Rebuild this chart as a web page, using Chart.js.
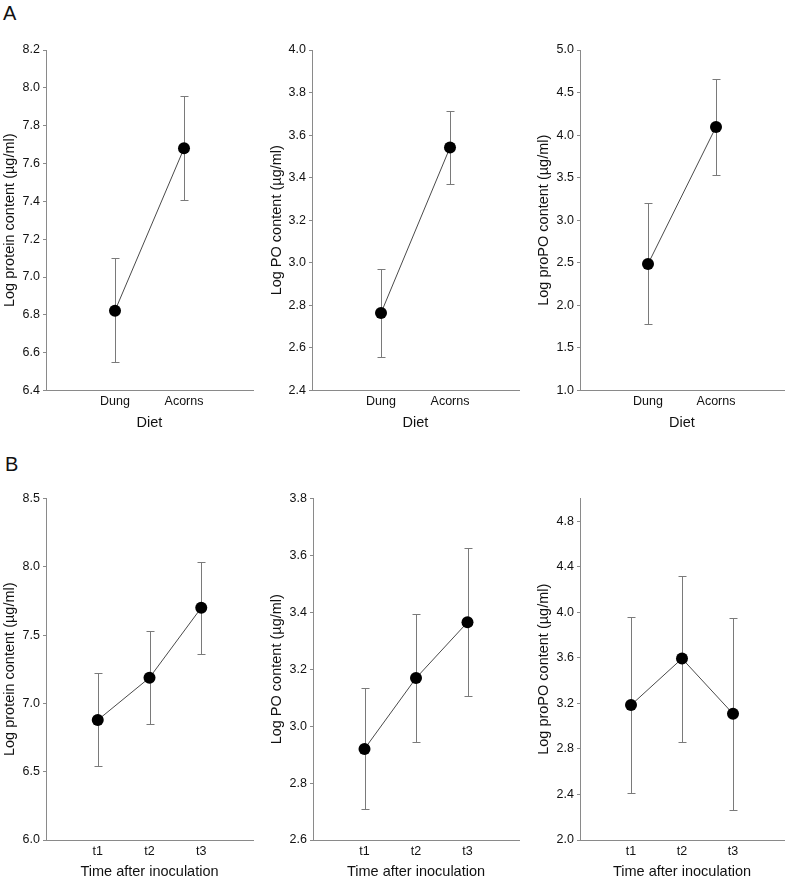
<!DOCTYPE html>
<html>
<head>
<meta charset="utf-8">
<script src="https://cdn.jsdelivr.net/npm/chart.js@4"></script>
<style>
  body { margin: 0; background: #fff; }
  #wrap { position: relative; width: 790px; height: 881px; font-family: "Liberation Sans", Arial, sans-serif; }
  canvas { position: absolute; }
  .tag { position: absolute; font-size: 20px; line-height: 20px; color: #111; }
</style>
</head>
<body>
<div id="wrap">
  <div class="tag" style="left:3px; top:3px">A</div>
  <div class="tag" style="left:5px; top:454px">B</div>
  <canvas id="a1" width="262" height="440" style="left:0px; top:0px"></canvas>
  <canvas id="a2" width="258" height="440" style="left:267px; top:0px"></canvas>
  <canvas id="a3" width="256" height="440" style="left:534px; top:0px"></canvas>
  <canvas id="b1" width="262" height="441" style="left:0px; top:440px"></canvas>
  <canvas id="b2" width="258" height="441" style="left:267px; top:440px"></canvas>
  <canvas id="b3" width="256" height="441" style="left:534px; top:440px"></canvas>
</div>
<script>
// categories
const dietLabels = ["Dung", "Acorns"];
const timeLabels = ["t1", "t2", "t3"];

// A: diet
const proteinDiet = [6.822, 7.68];
const proteinDietLow = [6.55, 7.406];
const proteinDietHigh = [7.098, 7.957];

const poDiet = [2.764, 3.542];
const poDietLow = [2.559, 3.37];
const poDietHigh = [2.971, 3.714];

const propoDiet = [2.486, 4.096];
const propoDietLow = [1.782, 3.533];
const propoDietHigh = [3.201, 4.663];

// B: time after inoculation
const proteinTime = [6.878, 7.188, 7.70];
const proteinTimeLow = [6.541, 6.851, 7.363];
const proteinTimeHigh = [7.22, 7.529, 8.034];

const poTime = [2.92, 3.169, 3.365];
const poTimeLow = [2.71, 2.946, 3.106];
const poTimeHigh = [3.133, 3.395, 3.626];

const propoTime = [3.185, 3.594, 3.109];
const propoTimeLow = [2.409, 2.861, 2.26];
const propoTimeHigh = [3.956, 4.321, 3.95];

const FONT = "'Liberation Sans', Arial, sans-serif";
const AXIS_GREY = "#8a8a8a";

// draws the vertical error bars under the points
const errorBars = {
  id: "errorBars",
  beforeDatasetsDraw(chart) {
    const ctx = chart.ctx;
    const xs = chart.scales.x, ys = chart.scales.y;
    const ds = chart.data.datasets[0];
    ctx.save();
    ctx.strokeStyle = "#7a7a7a";
    ctx.lineWidth = 1;
    ds.data.forEach((p, i) => {
      const px = Math.round(xs.getPixelForValue(p.x)) + 0.5;
      const top = Math.round(ys.getPixelForValue(ds.high[i])) + 0.5;
      const bot = Math.round(ys.getPixelForValue(ds.low[i])) + 0.5;
      ctx.beginPath();
      ctx.moveTo(px, top); ctx.lineTo(px, bot);
      ctx.moveTo(px - 4, top); ctx.lineTo(px + 4, top);
      ctx.moveTo(px - 4, bot); ctx.lineTo(px + 4, bot);
      ctx.stroke();
    });
    ctx.restore();
  }
};

function makePanel(id, cats, means, low, high, y, xTitle, box) {
  const pts = means.map((v, i) => ({ x: i + 1, y: v }));
  new Chart(document.getElementById(id), {
    type: "line",
    data: {
      datasets: [{
        data: pts,
        low: low,
        high: high,
        borderColor: "#4a4a4a",
        borderWidth: 1,
        pointRadius: 6,
        pointBackgroundColor: "#000",
        pointBorderColor: "#000",
        pointBorderWidth: 0,
        tension: 0
      }]
    },
    options: {
      responsive: false,
      animation: false,
      layout: { padding: { top: box.top, right: box.right, bottom: 0, left: 0 } },
      plugins: { legend: { display: false }, tooltip: { enabled: false } },
      scales: {
        x: {
          type: "linear",
          min: 0,
          max: cats.length + 1,
          afterFit: s => { s.height = box.xh; },
          grid: { display: false, drawTicks: false },
          border: { color: AXIS_GREY, width: 1 },
          ticks: {
            stepSize: 1,
            padding: 4,
            color: "#111",
            font: { family: FONT, size: 12.5 },
            callback: v => cats[v - 1] || ""
          },
          title: {
            display: true,
            text: xTitle,
            color: "#111",
            font: { family: FONT, size: 14.5 },
            padding: { top: 0, bottom: box.tpb }
          }
        },
        y: {
          min: y.min,
          max: y.max,
          afterFit: s => { s.width = box.yw; },
          afterBuildTicks: s => { s.ticks = s.ticks.filter(t => t.value <= y.last + 1e-6); },
          grid: { display: true, drawOnChartArea: false, drawTicks: true, tickLength: 3, color: AXIS_GREY },
          border: { color: AXIS_GREY, width: 1 },
          ticks: {
            stepSize: y.step,
            padding: 3,
            color: "#111",
            font: { family: FONT, size: 12.5 },
            callback: v => v.toFixed(1)
          },
          title: {
            display: true,
            text: y.title,
            color: "#111",
            font: { family: FONT, size: 14.5 },
            padding: { top: 1, bottom: 0 }
          }
        }
      }
    },
    plugins: [errorBars]
  });
}

const rowA = { top: 50, xh: 49.5, tpb: 8 };
const rowB = { top: 58.5, xh: 41, tpb: 0 };

makePanel("a1", dietLabels, proteinDiet, proteinDietLow, proteinDietHigh,
  { min: 6.4, max: 8.2, step: 0.2, last: 8.2, title: "Log protein content (µg/ml)" }, "Diet",
  Object.assign({ yw: 46, right: 9 }, rowA));
makePanel("a2", dietLabels, poDiet, poDietLow, poDietHigh,
  { min: 2.4, max: 4.0, step: 0.2, last: 4.0, title: "Log PO content (µg/ml)" }, "Diet",
  Object.assign({ yw: 45, right: 6 }, rowA));
makePanel("a3", dietLabels, propoDiet, propoDietLow, propoDietHigh,
  { min: 1.0, max: 5.0, step: 0.5, last: 5.0, title: "Log proPO content (µg/ml)" }, "Diet",
  Object.assign({ yw: 46, right: 3 }, rowA));

makePanel("b1", timeLabels, proteinTime, proteinTimeLow, proteinTimeHigh,
  { min: 6.0, max: 8.5, step: 0.5, last: 8.5, title: "Log protein content (µg/ml)" }, "Time after inoculation",
  Object.assign({ yw: 46, right: 9 }, rowB));
makePanel("b2", timeLabels, poTime, poTimeLow, poTimeHigh,
  { min: 2.6, max: 3.8, step: 0.2, last: 3.8, title: "Log PO content (µg/ml)" }, "Time after inoculation",
  Object.assign({ yw: 46, right: 6 }, rowB));
makePanel("b3", timeLabels, propoTime, propoTimeLow, propoTimeHigh,
  { min: 2.0, max: 5.0, step: 0.4, last: 4.8, title: "Log proPO content (µg/ml)" }, "Time after inoculation",
  Object.assign({ yw: 46, right: 3 }, rowB));
</script>
</body>
</html>
